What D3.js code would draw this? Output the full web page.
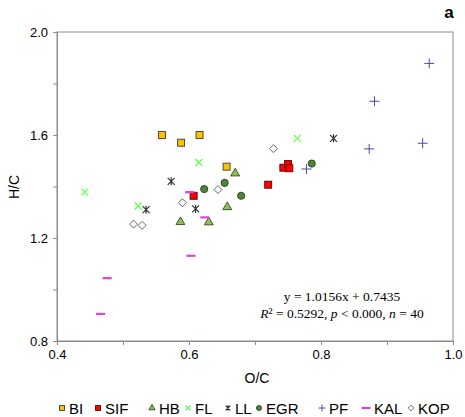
<!DOCTYPE html>
<html>
<head>
<meta charset="utf-8">
<script src="https://cdn.jsdelivr.net/npm/d3@7"></script>
<style>
body { margin: 0; background: #fff; }
text { font-family: "Liberation Sans", Arial, sans-serif; }
</style>
</head>
<body>
<script>
// series (O/C, H/C)
var seriesNames = ["BI", "SIF", "HB", "FL", "LL", "EGR", "PF", "KAL", "KOP"];
var BI  = [[0.559, 1.600], [0.588, 1.570], [0.616, 1.600], [0.657, 1.477]];
var SIF = [[0.607, 1.364], [0.720, 1.407], [0.743, 1.473], [0.750, 1.487], [0.752, 1.471]];
var HB  = [[0.670, 1.451], [0.658, 1.320], [0.587, 1.262], [0.630, 1.261]];
var FL  = [[0.615, 1.493], [0.442, 1.378], [0.523, 1.324], [0.764, 1.587]];
var LL  = [[0.573, 1.420], [0.535, 1.310], [0.610, 1.313], [0.819, 1.587]];
var EGR = [[0.623, 1.390], [0.654, 1.414], [0.679, 1.364], [0.786, 1.489]];
var PF  = [[0.964, 1.878], [0.881, 1.731], [0.873, 1.546], [0.954, 1.568], [0.778, 1.468]];
var KAL = [[0.601, 1.378], [0.624, 1.280], [0.603, 1.131], [0.476, 1.044], [0.466, 0.905]];
var KOP = [[0.644, 1.388], [0.590, 1.337], [0.516, 1.254], [0.529, 1.249], [0.728, 1.547]];
var allSeries = [BI, SIF, HB, FL, LL, EGR, PF, KAL, KOP];

var xTicks = [0.4, 0.5, 0.6, 0.7, 0.8, 0.9, 1.0];
var yTicks = [0.8, 1.0, 1.2, 1.4, 1.6, 1.8, 2.0];
var eqLine1 = "y = 1.0156x + 0.7435";

var w = 465, h = 417;
var m = {left: 57, right: 12, top: 32, bottom: 76};

var svg = d3.select("body").append("svg")
	.attr("width", w)
	.attr("height", h);

var x = d3.scaleLinear().domain([0.4, 1.0]).range([m.left, w - m.right]);
var y = d3.scaleLinear().domain([0.8, 2.0]).range([h - m.bottom, m.top]);

var axisCol = "#8c8c8c";

// frame
svg.append("rect")
	.attr("x", x(0.4)).attr("y", y(2.0))
	.attr("width", x(1.0) - x(0.4)).attr("height", y(0.8) - y(2.0))
	.attr("fill", "none").attr("stroke", axisCol).attr("stroke-width", 1);

// axes
var xAxis = svg.append("g")
	.attr("transform", "translate(0," + y(0.8) + ")")
	.call(d3.axisBottom(x).tickValues(xTicks).tickSize(4).tickPadding(5)
		.tickFormat(function(d) { return Math.round(d * 10) % 2 == 0 ? d3.format(".1f")(d) : ""; }));
var yAxis = svg.append("g")
	.attr("transform", "translate(" + x(0.4) + ",0)")
	.call(d3.axisLeft(y).tickValues(yTicks).tickSize(4).tickPadding(5)
		.tickFormat(function(d) { return Math.round(d * 10) % 4 == 0 ? d3.format(".1f")(d) : ""; }));

[xAxis, yAxis].forEach(function(g) {
	g.select(".domain").attr("stroke", axisCol);
	g.selectAll(".tick line").attr("stroke", axisCol);
	g.selectAll(".tick text")
		.attr("fill", "#000")
		.style("font-size", "13px")
		.style("font-family", "Liberation Sans, Arial, sans-serif");
});

// axis titles
svg.append("text")
	.attr("x", 257).attr("y", 383)
	.attr("text-anchor", "middle")
	.style("font-size", "14px")
	.text("O/C");
svg.append("text")
	.attr("transform", "translate(19,187) rotate(-90)")
	.attr("text-anchor", "middle")
	.style("font-size", "14px")
	.text("H/C");

// panel letter
svg.append("text")
	.attr("x", 449).attr("y", 18)
	.attr("text-anchor", "middle")
	.style("font-size", "17px")
	.style("font-weight", "bold")
	.text("a");

// marker drawing
function marker(g, k, s) {
	var c;
	if (k == 0 || k == 1) {
		g.append("rect").attr("x", -3.5 * s).attr("y", -3.5 * s)
			.attr("width", 7 * s).attr("height", 7 * s)
			.attr("fill", k == 0 ? "#ffc000" : "#ff0000")
			.attr("stroke", k == 0 ? "#3c3c3c" : "#5a0000").attr("stroke-width", 0.9);
	} else if (k == 2) {
		g.append("path").attr("d", d3.symbol(d3.symbolTriangle, 34 * s * s))
			.attr("fill", "#8fc057").attr("stroke", "#2f4a1e").attr("stroke-width", 0.9);
	} else if (k == 3) {
		g.append("path").attr("d", "M-3.5,-3.5L3.5,3.5M-3.5,3.5L3.5,-3.5")
			.attr("transform", "scale(" + s + ")")
			.attr("stroke", "#66ff55").attr("stroke-width", 1.3 / s).attr("fill", "none");
	} else if (k == 4) {
		g.append("path").attr("d", "M-3.5,-3.5L3.5,3.5M-3.5,3.5L3.5,-3.5M0,-4L0,4")
			.attr("transform", "scale(" + s + ")")
			.attr("stroke", "#333").attr("stroke-width", 1.2 / s).attr("fill", "none");
	} else if (k == 5) {
		g.append("circle").attr("r", 3.6 * s)
			.attr("fill", "#4f8536").attr("stroke", "#263f19").attr("stroke-width", 0.9);
	} else if (k == 6) {
		g.append("path").attr("d", "M-5,0L5,0M0,-5L0,5")
			.attr("transform", "scale(" + s + ")")
			.attr("stroke", "#4a4aa8").attr("stroke-width", 1 / s).attr("fill", "none");
	} else if (k == 7) {
		g.append("path").attr("d", "M-4.5,0L4.5,0")
			.attr("transform", "scale(" + s + ")")
			.attr("stroke", "#e040d8").attr("stroke-width", 2.2 / s).attr("fill", "none");
	} else if (k == 8) {
		g.append("path").attr("d", "M0,-4L4,0L0,4L-4,0Z")
			.attr("transform", "scale(" + s + ")")
			.attr("fill", "#fff").attr("stroke", "#555").attr("stroke-width", 0.9 / s);
	}
}

// points
allSeries.forEach(function(data, k) {
	svg.append("g").selectAll("g")
		.data(data)
		.enter()
		.append("g")
		.attr("transform", function(d) { return "translate(" + x(d[0]) + "," + y(d[1]) + ")"; })
		.each(function() { marker(d3.select(this), k, 1); });
});

// regression text
var eq = svg.append("g").style("font-family", "Liberation Serif, Times New Roman, serif").style("font-size", "13.5px");
eq.append("text").attr("x", 342).attr("y", 301).attr("text-anchor", "middle")
	.style("font-family", "Liberation Serif, serif").text(eqLine1);
var t2 = eq.append("text").attr("x", 342).attr("y", 318).attr("text-anchor", "middle")
	.style("font-family", "Liberation Serif, serif");
t2.append("tspan").style("font-style", "italic").text("R");
t2.append("tspan").text("² = 0.5292, ");
t2.append("tspan").style("font-style", "italic").text("p");
t2.append("tspan").text(" < 0.000, ");
t2.append("tspan").style("font-style", "italic").text("n");
t2.append("tspan").text(" = 40");

// legend
var legX = [62, 98, 152, 188, 228, 259, 322, 366, 411];
var leg = svg.append("g");
seriesNames.forEach(function(name, k) {
	var g = leg.append("g").attr("transform", "translate(" + legX[k] + ",408)");
	if (k == 7) marker(g, k, 1);
	else marker(g, k, 0.7);
	g.append("text")
		.attr("x", k == 7 ? 8 : 7).attr("y", 5.5)
		.style("font-size", "15px")
		.text(name);
});
</script>
</body>
</html>
